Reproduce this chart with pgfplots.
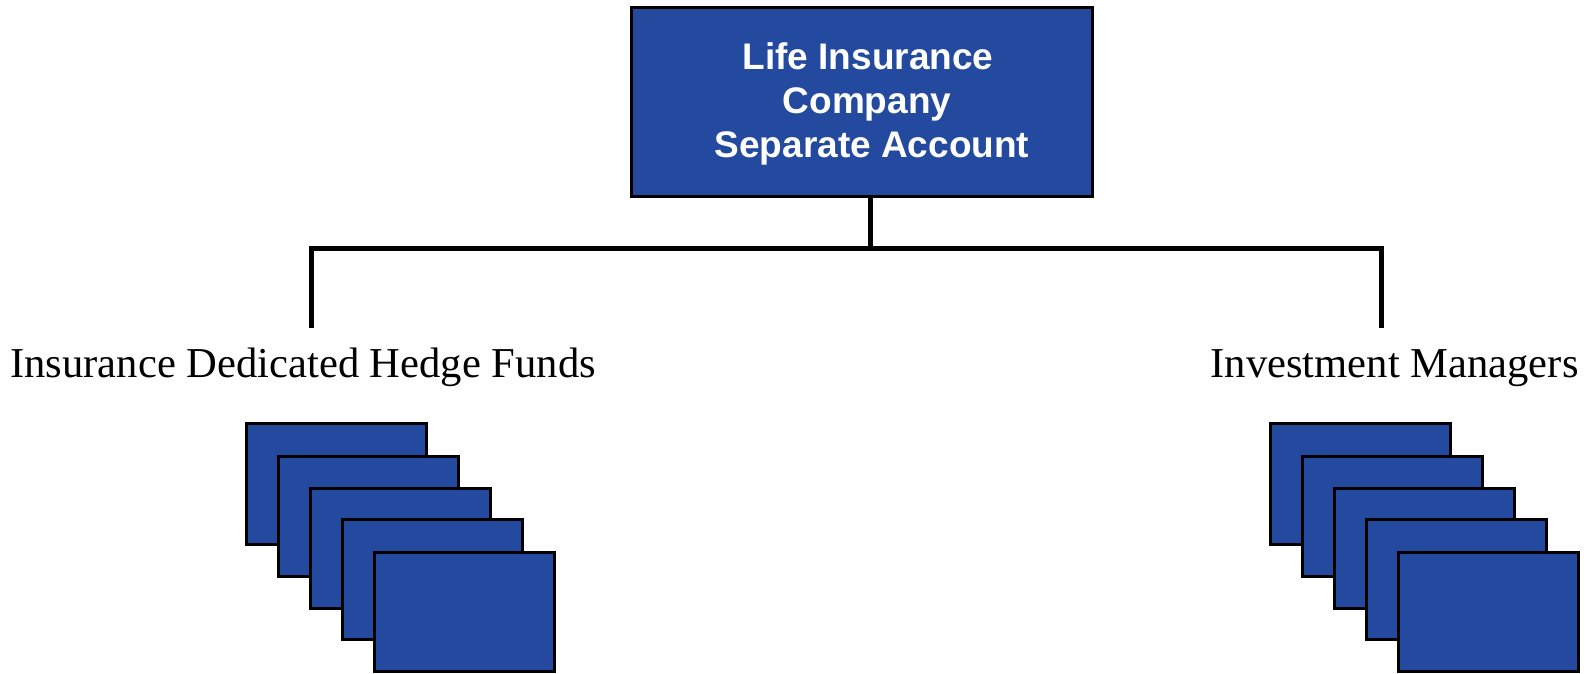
\documentclass[border=0pt]{standalone}
\usepackage{pgfplots}
\pgfplotsset{compat=1.18}
\usepackage{fontspec}
\setmainfont{Liberation Serif}
\newfontfamily\arialfont{Liberation Sans}
\definecolor{boxblue}{RGB}{35,74,159}
\begin{document}
\begin{tikzpicture}
\begin{axis}[
  scale only axis, width=795pt, height=337pt,
  xmin=0, xmax=1590, ymin=0, ymax=674, y dir=reverse,
  hide axis, clip=false]
% background
\addplot[fill=white, draw=none] coordinates {(0,0) (1590,0) (1590,674) (0,674)} -- cycle;
% top box
\addplot[fill=boxblue, draw=black, line width=1.5pt] coordinates {(631,8) (1092,8) (1092,196) (631,196)} -- cycle;
% connectors
\addplot[black, line width=2.5pt] coordinates {(870,198) (870,248)};
\addplot[black, line width=2.5pt, line join=miter] coordinates {(311,328) (311,248) (1381,248) (1381,328)};
% left stack
\addplot[fill=boxblue, draw=black, line width=1.5pt] coordinates {(246,423) (426,423) (426,544) (246,544)} -- cycle;
\addplot[fill=boxblue, draw=black, line width=1.5pt] coordinates {(278,456) (458,456) (458,576) (278,576)} -- cycle;
\addplot[fill=boxblue, draw=black, line width=1.5pt] coordinates {(310,488) (490,488) (490,608) (310,608)} -- cycle;
\addplot[fill=boxblue, draw=black, line width=1.5pt] coordinates {(342,519) (522,519) (522,639) (342,639)} -- cycle;
\addplot[fill=boxblue, draw=black, line width=1.5pt] coordinates {(374,552) (554,552) (554,671) (374,671)} -- cycle;
% right stack
\addplot[fill=boxblue, draw=black, line width=1.5pt] coordinates {(1270,423) (1450,423) (1450,544) (1270,544)} -- cycle;
\addplot[fill=boxblue, draw=black, line width=1.5pt] coordinates {(1302,456) (1482,456) (1482,576) (1302,576)} -- cycle;
\addplot[fill=boxblue, draw=black, line width=1.5pt] coordinates {(1334,488) (1514,488) (1514,608) (1334,608)} -- cycle;
\addplot[fill=boxblue, draw=black, line width=1.5pt] coordinates {(1366,519) (1546,519) (1546,639) (1366,639)} -- cycle;
\addplot[fill=boxblue, draw=black, line width=1.5pt] coordinates {(1398,552) (1578,552) (1578,671) (1398,671)} -- cycle;
% texts
\node[anchor=base, text=white, font=\arialfont\bfseries\fontsize{18.5}{22}\selectfont, inner sep=0pt] at (axis cs:868,70) {Life Insurance};
\node[anchor=base, text=white, font=\arialfont\bfseries\fontsize{18.5}{22}\selectfont, inner sep=0pt] at (axis cs:867,113) {Company};
\node[anchor=base, text=white, font=\arialfont\bfseries\fontsize{18.5}{22}\selectfont, inner sep=0pt] at (axis cs:872,157) {Separate Account};
\node[anchor=base west, font=\fontsize{21.3}{25}\selectfont, inner sep=0pt] at (axis cs:10,377) {Insurance Dedicated Hedge Funds};
\node[anchor=base east, font=\fontsize{21.3}{25}\selectfont, inner sep=0pt] at (axis cs:1579,377) {Investment Managers};
\end{axis}
\end{tikzpicture}
\end{document}
